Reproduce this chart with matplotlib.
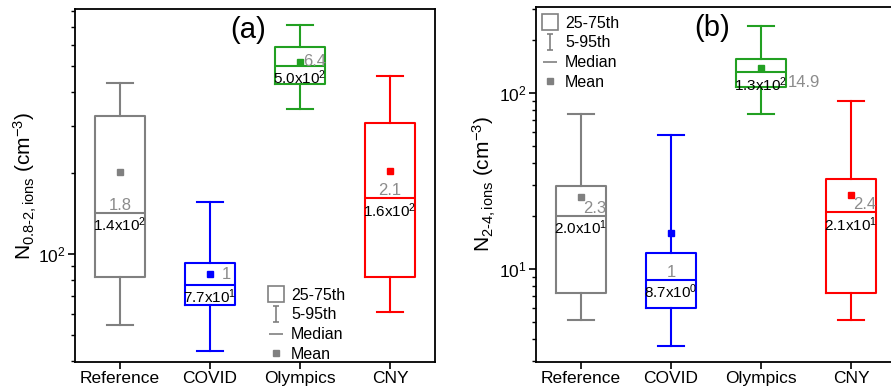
import numpy as np
import matplotlib.pyplot as plt
from matplotlib.lines import Line2D
from matplotlib.path import Path
from matplotlib.ticker import LogLocator, NullFormatter

plt.rcParams['font.family'] = ['Liberation Sans', 'DejaVu Sans']
plt.rcParams['mathtext.fontset'] = 'custom'
plt.rcParams['mathtext.rm'] = 'Liberation Sans'
plt.rcParams['mathtext.it'] = 'Liberation Sans:italic'
plt.rcParams['mathtext.bf'] = 'Liberation Sans:bold'

cats = ['Reference', 'COVID', 'Olympics', 'CNY']
colors = ['#808080', '#0000ff', '#22a022', '#ff0000']

# panel (a): N 0.8-2 nm ions
a_p5 = [54.5, 43.6, 346, 60.8]
a_q1 = [82, 64.6, 428, 82]
a_med = [142, 77, 500, 161]
a_q3 = [326, 93, 589, 307]
a_p95 = [432, 156, 710, 459]
a_mean = [202, 84, 518, 203]
a_med_txt = ['1.4x10$^2$', '7.7x10$^1$', '5.0x10$^2$', '1.6x10$^2$']
a_ratio = ['1.8', '1', '6.4', '2.1']

# panel (b): N 2-4 nm ions
b_p5 = [5.1, 3.65, 76, 5.1]
b_q1 = [7.3, 6.0, 108, 7.3]
b_med = [20, 8.7, 131, 21]
b_q3 = [29.6, 12.3, 156, 32.5]
b_p95 = [76, 57.7, 240, 90]
b_mean = [25.6, 16, 139, 26.3]
b_med_txt = ['2.0x10$^1$', '8.7x10$^0$', '1.3x10$^2$', '2.1x10$^1$']
b_ratio = ['2.3', '1', '14.9', '2.4']

# where the grey ratio labels sit: (anchor, dx)
a_place = [('above', 0), ('mean', 0.13), ('mean', 0.04), ('above', 0)]
b_place = [('aboveright', 0.02), ('above', 0), ('medlabel', 0.3), ('aboveright', 0.02)]

fig = plt.figure(figsize=(8.91, 3.87), dpi=100)
ax1 = fig.add_axes([75/891, 25/387, 360/891, 353/387])
ax2 = fig.add_axes([536/891, 25/387, 360/891, 355/387])

# I-shaped marker for legend
ibar = Path([(-0.35, -1), (0.35, -1), (0, -1), (0, 1), (-0.35, 1), (0.35, 1)],
            [Path.MOVETO, Path.LINETO, Path.MOVETO, Path.LINETO, Path.MOVETO, Path.LINETO])


def panel(ax, p5, q1, med, q3, p95, mean, med_txt, ratio, place, ylim, ylabel, labx, tag, tagx):
    pos = np.arange(1, len(cats) + 1)
    for i in range(len(cats)):
        st = [dict(med=med[i], q1=q1[i], q3=q3[i], whislo=p5[i], whishi=p95[i],
                   mean=mean[i], fliers=[])]
        c = colors[i]
        ax.bxp(st, positions=[pos[i]], widths=0.56, showmeans=True, showfliers=False,
               capwidths=0.28,
               boxprops=dict(color=c, lw=1.5),
               medianprops=dict(color=c, lw=1.5),
               whiskerprops=dict(color=c, lw=1.5),
               capprops=dict(color=c, lw=1.5),
               meanprops=dict(marker='s', markersize=5, markerfacecolor=c,
                              markeredgecolor=c))
        ax.annotate(med_txt[i], (pos[i], med[i]), xytext=(0, -2), textcoords='offset points',
                    ha='center', va='top', fontsize=11, color='black')
        kind, dx = place[i]
        if kind == 'above':
            ax.annotate(ratio[i], (pos[i] + dx, med[i]), xytext=(0, 0), textcoords='offset points',
                        ha='center', va='bottom', fontsize=12, color='#8c8c8c')
        elif kind == 'aboveright':
            ax.annotate(ratio[i], (pos[i] + dx, med[i]), xytext=(0, 0), textcoords='offset points',
                        ha='left', va='bottom', fontsize=12, color='#8c8c8c')
        elif kind == 'mean':
            ax.annotate(ratio[i], (pos[i] + dx, mean[i]), xytext=(0, 0), textcoords='offset points',
                        ha='left', va='center', fontsize=12, color='#8c8c8c')
        else:
            ax.annotate(ratio[i], (pos[i] + dx, med[i]), xytext=(0, -2), textcoords='offset points',
                        ha='left', va='top', fontsize=12, color='#8c8c8c')
    ax.set_yscale('log')
    ax.set_ylim(ylim)
    ax.set_xlim(0.5, 4.5)
    ax.set_xticks(pos)
    ax.set_xticklabels(cats)
    ax.yaxis.set_major_locator(LogLocator(base=10))
    ax.yaxis.set_minor_locator(LogLocator(base=10, subs=np.arange(2, 10)))
    ax.yaxis.set_minor_formatter(NullFormatter())
    ax.tick_params(axis='both', which='major', direction='out', length=5, width=1.2,
                   labelsize=12.5)
    ax.tick_params(axis='x', which='major', pad=1.5)
    ax.tick_params(axis='y', which='major', pad=1.5)
    ax.tick_params(axis='y', which='minor', direction='out', length=3, width=1)
    for s in ax.spines.values():
        s.set_linewidth(1.3)
    ax.set_ylabel(ylabel, fontsize=15)
    ax.yaxis.set_label_coords(labx, 0.5)
    ax.text(tagx, 0.94, tag, transform=ax.transAxes, ha='center', va='center', fontsize=21)


panel(ax1, a_p5, a_q1, a_med, a_q3, a_p95, a_mean, a_med_txt, a_ratio, a_place,
      (39.7, 815), 'N$_{\\mathrm{0.8\\text{-}2,ions}}$ (cm$^{-3}$)', -0.1, '(a)', 0.48)
panel(ax2, b_p5, b_q1, b_med, b_q3, b_p95, b_mean, b_med_txt, b_ratio, b_place,
      (2.96, 308), 'N$_{\\mathrm{2\\text{-}4,ions}}$ (cm$^{-3}$)', -0.105, '(b)', 0.49)

gray = '#808080'
handles = [
    Line2D([], [], ls='none', marker='s', markersize=12, markerfacecolor='white',
           markeredgecolor=gray, markeredgewidth=1.2),
    Line2D([], [], ls='none', marker=ibar, markersize=12, markeredgecolor=gray,
           markeredgewidth=1.2),
    Line2D([], [], ls='none', marker='_', markersize=10, markeredgecolor=gray,
           markeredgewidth=1.2),
    Line2D([], [], ls='none', marker='s', markersize=4, markerfacecolor=gray,
           markeredgecolor=gray),
]
labels = ['25-75th', '5-95th', 'Median', 'Mean']
for ax, anchor in [(ax1, (0.525, 0.22)), (ax2, (0.005, 0.985))]:
    ax.legend(handles, labels, loc='upper left', bbox_to_anchor=anchor, frameon=False,
              fontsize=11.5, handlelength=1.1, handletextpad=0.4, labelspacing=0.3,
              borderpad=0.2, borderaxespad=0)

fig.savefig('out.png', dpi=100)
